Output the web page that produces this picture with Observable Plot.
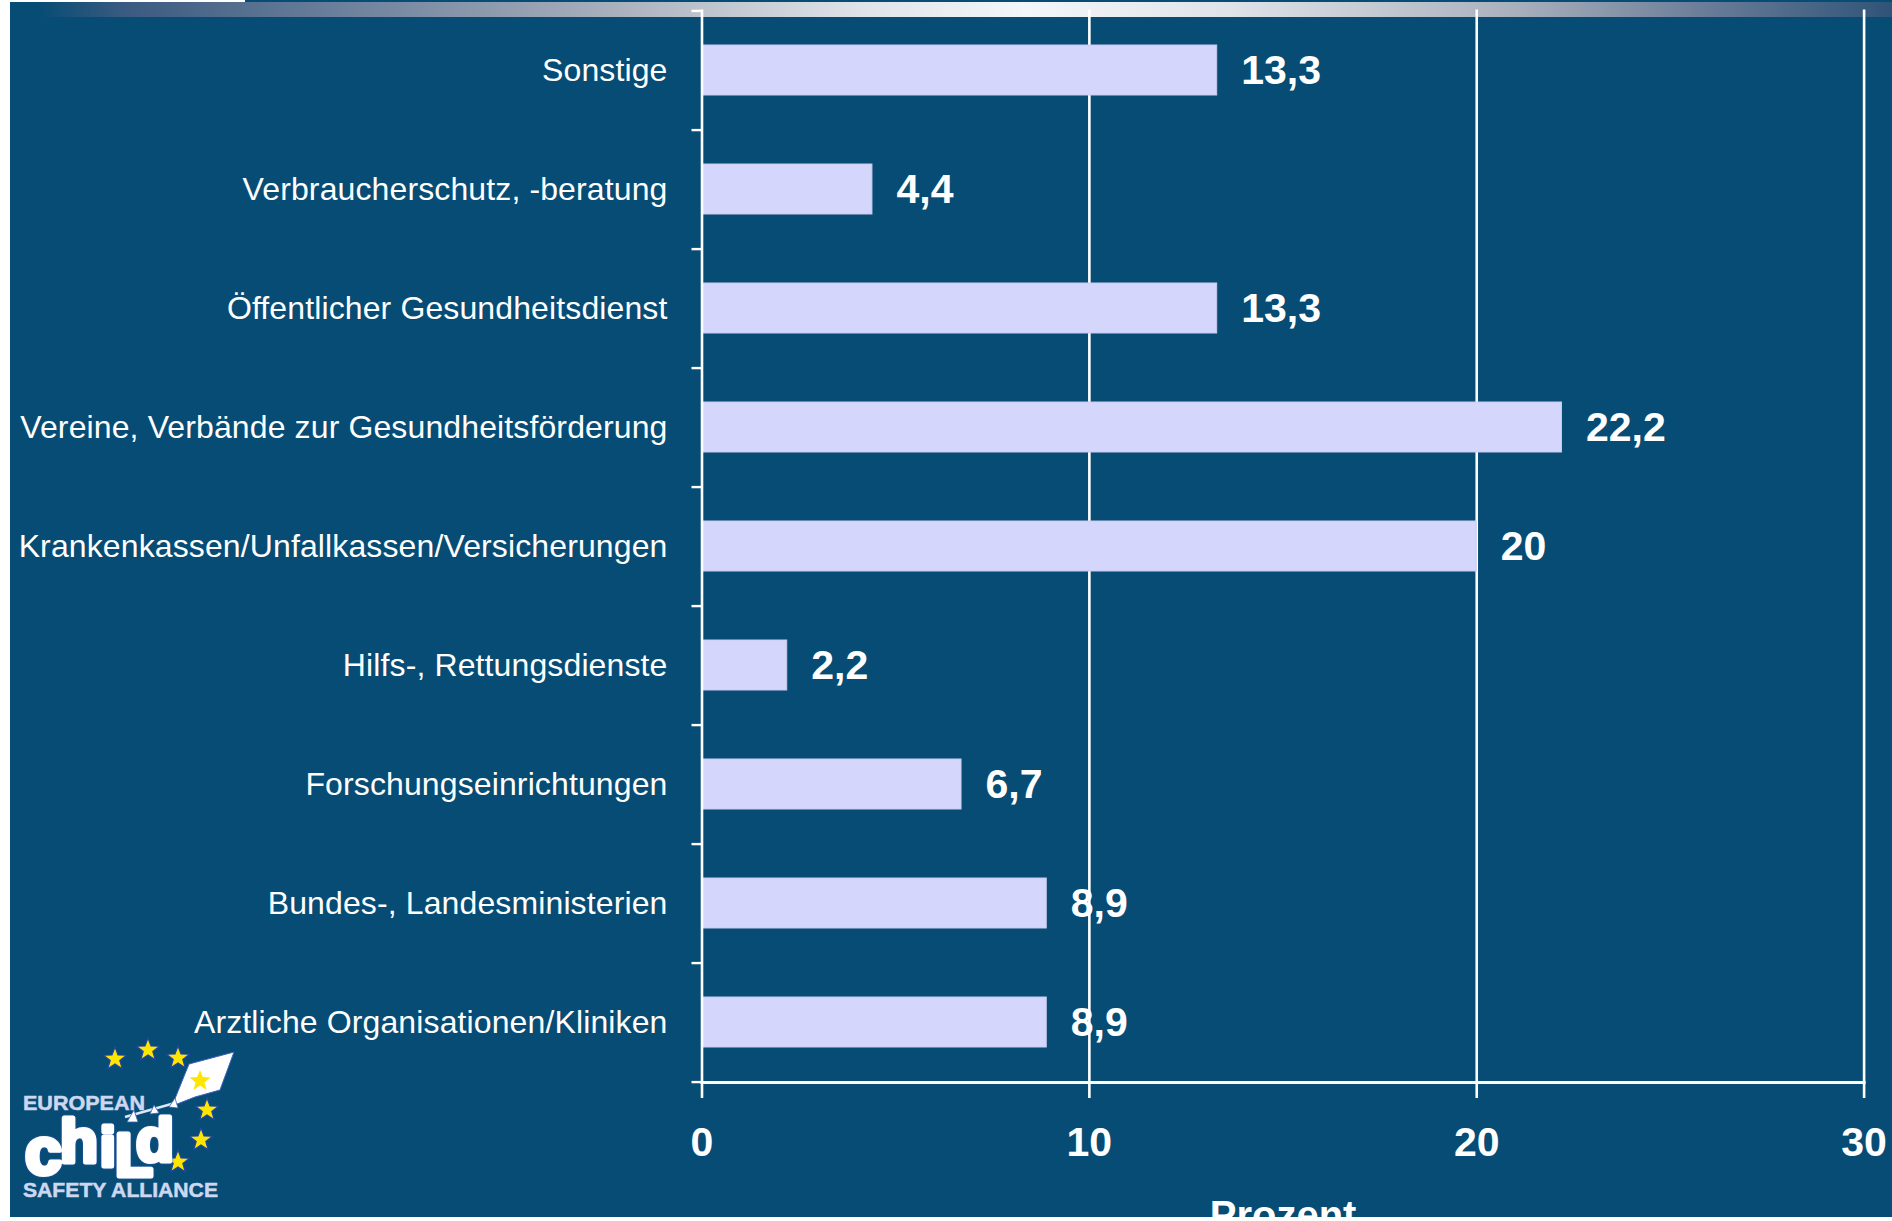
<!DOCTYPE html>
<html lang="de">
<head>
<meta charset="utf-8">
<script src="https://cdn.jsdelivr.net/npm/d3@7"></script>
<script src="https://cdn.jsdelivr.net/npm/@observablehq/plot@0.6"></script>
<style>
html,body{margin:0;padding:0;background:#fff;overflow:hidden}
#page{position:relative;width:1892px;height:1221px;background:#fff;overflow:hidden}
#bg{position:absolute;left:10px;top:0;right:0;bottom:4px;background:#064c74}
#band{position:absolute;left:10px;right:0;top:2px;height:15px;background:linear-gradient(90deg,#064c74 0,#064c74 1.5%,#3a5a80 6%,#a9b0bd 32%,#dfe3e8 45%,#f4f7f9 54%,#dfe3e8 65%,#a9b0bd 80%,#6a7d98 90%,#2f5478 100%)}
#topbar{position:absolute;left:10px;top:0;width:235px;height:2px;background:#fff}
#chart{position:absolute;left:0;top:0}
#chart g[aria-label="y-axis tick label"] text{letter-spacing:.12px}
#strip{position:absolute;left:0;right:0;bottom:0;height:4px;background:#fff}
#logo{position:absolute;left:0;top:980px}
</style>
</head>
<body>
<div id="page">
  <div id="bg"></div>
  <div id="band"></div>
  <div id="topbar"></div>
  <div id="chart"></div>
  <svg id="logo" width="260" height="241" viewBox="0 0 260 241" font-family="Liberation Sans" font-weight="bold">
    <g fill="#ffe600" stroke="#1f45a8" stroke-width="1.2">
      <polygon points="0,-12 3,-4 11.5,-3.8 4.8,1.5 7.2,9.7 0,5 -7.2,9.7 -4.8,1.5 -11.5,-3.8 -3,-4" transform="translate(115,79)"/>
      <polygon points="0,-12 3,-4 11.5,-3.8 4.8,1.5 7.2,9.7 0,5 -7.2,9.7 -4.8,1.5 -11.5,-3.8 -3,-4" transform="translate(148,70)"/>
      <polygon points="0,-12 3,-4 11.5,-3.8 4.8,1.5 7.2,9.7 0,5 -7.2,9.7 -4.8,1.5 -11.5,-3.8 -3,-4" transform="translate(178,78)"/>
      <polygon points="0,-12 3,-4 11.5,-3.8 4.8,1.5 7.2,9.7 0,5 -7.2,9.7 -4.8,1.5 -11.5,-3.8 -3,-4" transform="translate(207,130)"/>
      <polygon points="0,-12 3,-4 11.5,-3.8 4.8,1.5 7.2,9.7 0,5 -7.2,9.7 -4.8,1.5 -11.5,-3.8 -3,-4" transform="translate(201,160)"/>
      <polygon points="0,-12 3,-4 11.5,-3.8 4.8,1.5 7.2,9.7 0,5 -7.2,9.7 -4.8,1.5 -11.5,-3.8 -3,-4" transform="translate(178,182)"/>
    </g>
    <polygon points="189,84 234,72 220,110 195,117 172,126" fill="#fff" stroke="#3a63c0" stroke-width="1"/>
    <polygon points="0,-11 2.8,-4 10.5,-3.5 4.4,1.4 6.6,9 0,4.6 -6.6,9 -4.4,1.4 -10.5,-3.5 -2.8,-4" transform="translate(200,101)" fill="#ffe600"/>
    <path d="M175 123 L125 137" stroke="#dfe6f8" stroke-width="2.5" fill="none"/>
    <g fill="#fff" stroke="#3a63c0" stroke-width=".8">
      <polygon points="175,118 169,127 178,128"/>
      <polygon points="154,125 150,134 159,133"/>
      <polygon points="134,130 127,142 138,142"/>
    </g>
    <text x="23" y="130" font-size="21" textLength="122" lengthAdjust="spacingAndGlyphs" fill="#cdd8f0" stroke="#cdd8f0" stroke-width=".5">EUROPEAN</text>
    <text x="23" y="217" font-size="21" textLength="195" lengthAdjust="spacingAndGlyphs" fill="#cdd8f0" stroke="#cdd8f0" stroke-width=".5">SAFETY ALLIANCE</text>
    <g fill="#fff" stroke="#fff" stroke-width="5" stroke-linejoin="round" font-size="62" style="filter:drop-shadow(0 0 1.2px #2a55b8)">
      <text x="25" y="194" font-size="66">c</text>
      <text x="60" y="182">h</text>
      <text x="100" y="186" font-size="56">i</text>
      <text x="115" y="196">L</text>
      <text x="136" y="181">d</text>
    </g>
  </svg>
  <div id="strip"></div>
</div>
<script>
// Categories listed top to bottom, as they appear in the picture
const categories = [
  "Sonstige",
  "Verbraucherschutz, -beratung",
  "Öffentlicher Gesundheitsdienst",
  "Vereine, Verbände zur Gesundheitsförderung",
  "Krankenkassen/Unfallkassen/Versicherungen",
  "Hilfs-, Rettungsdienste",
  "Forschungseinrichtungen",
  "Bundes-, Landesministerien",
  "Arztliche Organisationen/Kliniken"
];
const percentages = [13.3, 4.4, 13.3, 22.2, 20, 2.2, 6.7, 8.9, 8.9];
const xTicks = [0, 10, 20, 30];
const xLabel = "Prozent";

const rows = categories.map((category, i) => ({category, value: percentages[i]}));
const fmt = v => String(v).replace(".", ",");

const W = 1892, H = 1221, ML = 701.5, MR = 28.4, MT = 9.5, MB = 139;
const step = (H - MT - MB) / categories.length;
const white = "#fff", sans = "Liberation Sans";

const plot = Plot.plot({
  width: W, height: H,
  marginLeft: ML, marginRight: MR, marginTop: MT, marginBottom: MB,
  style: {background: "transparent", fontFamily: sans, color: white, overflow: "visible"},
  x: {domain: [0, 30], label: null},
  y: {domain: categories, paddingInner: 0.58, paddingOuter: 0.29, label: null},
  marks: [
    Plot.ruleX(xTicks.slice(1), {stroke: white, strokeWidth: 2.6}),
    Plot.barX(rows, {x: "value", y: "category", fill: "#d4d6fc", stroke: "#c9cbee", strokeWidth: 1}),
    Plot.ruleX([0], {stroke: white, strokeWidth: 2.6}),
    Plot.frame({anchor: "bottom", stroke: white, strokeWidth: 3}),
    // category separator ticks on the y axis
    Plot.ruleY(categories, {y: d => d, x1: () => 0, x2: () => 0, insetLeft: -10, dy: step / 2, stroke: white, strokeWidth: 2.4}),
    Plot.ruleY(categories.slice(0, 1), {y: d => d, x1: () => 0, x2: () => 0, insetLeft: -10, dy: -step / 2, stroke: white, strokeWidth: 2.4}),
    Plot.axisY({anchor: "left", tickSize: 0, tickPadding: 34.5, dy: 0.5, fontSize: 32, fill: white, label: null, textOverflow: null, lineWidth: Infinity}),
    Plot.axisX({ticks: xTicks, tickSize: 16, tickPadding: 28, fontSize: 41, fontWeight: "bold", stroke: white, strokeWidth: 2.6, fill: white, tickFormat: d => String(d), label: null}),
    Plot.text(rows, {x: "value", y: "category", text: d => fmt(d.value), textAnchor: "start", dx: 24, dy: 0.5, fontSize: 41, fontWeight: "bold", fill: white}),
    Plot.text([xLabel], {frameAnchor: "bottom", lineAnchor: "top", dy: 118, fontSize: 40, fontWeight: "bold", fill: white})
  ]
});
document.getElementById("chart").appendChild(plot);
</script>
</body>
</html>
